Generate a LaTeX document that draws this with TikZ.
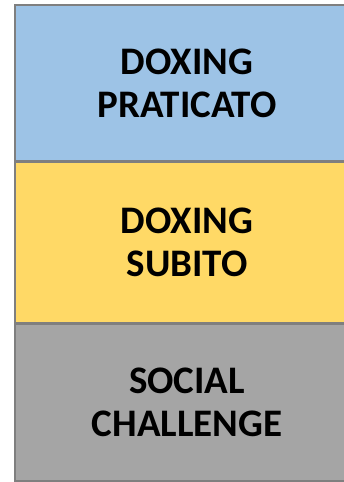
\documentclass[tikz,border=0pt]{standalone}
\usepackage{fontspec}
\setmainfont{Carlito}
\usetikzlibrary{positioning}
\definecolor{boxblue}{HTML}{9DC3E6}
\definecolor{boxyellow}{HTML}{FFD966}
\definecolor{boxgray}{HTML}{A5A5A5}
\definecolor{boxline}{HTML}{7F7F7F}

\begin{document}
\begin{tikzpicture}[x=1pt, y=1pt, node distance=0pt, every node/.style={draw=boxline, line width=2.6pt, outer sep=0pt, align=center, minimum width=344pt, font=\fontsize{39}{43}\selectfont\bfseries}]
\useasboundingbox (0,0) rectangle (344,482);
\clip (0,0) rectangle (344,482);
\node[fill=boxblue, anchor=north west, minimum height=156.5pt] (praticato) at (15,477) {DOXING\\PRATICATO};
\node[fill=boxyellow, minimum height=162pt, below=of praticato] (subito) {DOXING\\SUBITO};
\node[fill=boxgray, minimum height=157.5pt, below=of subito] (challenge) {SOCIAL\\CHALLENGE};
\end{tikzpicture}
\end{document}
